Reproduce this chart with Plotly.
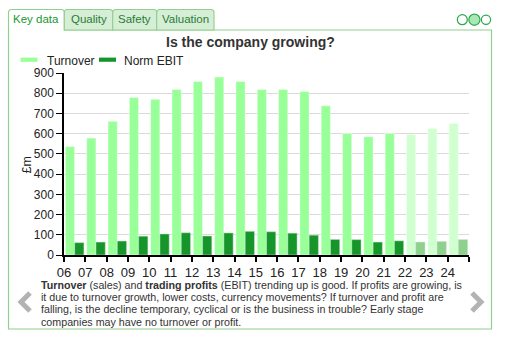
import plotly.graph_objects as go

# ---- data -------------------------------------------------------------
years = ["06", "07", "08", "09", "10", "11", "12", "13", "14", "15",
         "16", "17", "18", "19", "20", "21", "22", "23", "24"]
turnover = [537, 578, 661, 779, 770, 819, 858, 880, 858, 818,
            818, 808, 738, 601, 585, 601, 596, 626, 651]
norm_ebit = [61, 64, 69, 93, 104, 110, 94, 109, 117, 115,
             108, 98, 77, 76, 64, 70, 64, 67, 76]
n_forecast = 3  # last three years are forecasts
y_ticks = [0, 100, 200, 300, 400, 500, 600, 700, 800, 900]

W, H = 507, 337
L, R, T, B = 64, 38, 73, 82
PW, PH = W - L - R, H - T - B


def px(x):
    return (x - L) / PW


def py(y):
    return (H - B - y) / PH


FONT = "Liberation Sans, Arial, Helvetica, sans-serif"
GREEN_LINE = "#8fcf8f"

n = len(years)
xpos = [i + 0.5 for i in range(n)]
turn_cols = ["#99ff99"] * (n - n_forecast) + ["#d0ffd0"] * n_forecast
ebit_cols = ["#16962a"] * (n - n_forecast) + ["#8ed18e"] * n_forecast

fig = go.Figure()
fig.add_trace(go.Bar(x=xpos, y=turnover, name="Turnover",
                     marker=dict(color=turn_cols,
                                 line=dict(color="rgba(255,255,255,0.45)", width=1)),
                     hoverinfo="skip"))
fig.add_trace(go.Bar(x=xpos, y=norm_ebit, name="Norm EBIT",
                     marker=dict(color=ebit_cols,
                                 line=dict(color="rgba(200,230,200,0.5)", width=1)),
                     hoverinfo="skip"))

shapes = []
ann = []

# panel frame and tabs
shapes.append(dict(type="rect", xref="paper", yref="paper", layer="below",
                   x0=px(8.5), x1=px(491.5), y0=py(329), y1=py(30),
                   line=dict(color=GREEN_LINE, width=1.2), fillcolor="white"))
tabs = [("Key data", 8.5, 64.3), ("Quality", 64.3, 112.7),
        ("Safety", 112.7, 156.7), ("Valuation", 156.7, 214)]
for i, (label, x0, x1) in enumerate(tabs):
    active = i == 0
    r = 3
    path = (f"M {px(x0)} {py(30)} L {px(x0)} {py(9.5 + r)} "
            f"Q {px(x0)} {py(9.5)} {px(x0 + r)} {py(9.5)} "
            f"L {px(x1 - r)} {py(9.5)} Q {px(x1)} {py(9.5)} {px(x1)} {py(9.5 + r)} "
            f"L {px(x1)} {py(30)} Z")
    shapes.append(dict(type="path", xref="paper", yref="paper", layer="below",
                       path=path, fillcolor="white" if active else "#d6eed6",
                       line=dict(color=GREEN_LINE, width=1.1)))
    if active:
        # open the bottom edge of the active tab into the panel
        shapes.append(dict(type="line", xref="paper", yref="paper", layer="below",
                           x0=px(x0 + 0.8), x1=px(x1 - 0.6), y0=py(30), y1=py(30),
                           line=dict(color="white", width=2)))
    ann.append(dict(text=label, x=px((x0 + x1) / 2), y=py(19.5), xref="paper",
                    yref="paper", showarrow=False, xanchor="center", yanchor="middle",
                    font=dict(family=FONT, size=11.5,
                              color="#179a2e" if active else "#2a7d35")))

# page indicator circles
for cx, rr, fill in [(462.3, 5, "white"), (474.4, 5.6, "#a8e8b4"), (486.0, 4.6, "white")]:
    shapes.append(dict(type="circle", xref="paper", yref="paper",
                       x0=px(cx - rr), x1=px(cx + rr), y0=py(19.7 + rr), y1=py(19.7 - rr),
                       fillcolor=fill, line=dict(color="#2aa84a", width=1.2)))

# navigation chevrons
for pts in [[(30, 293), (21, 302), (30, 311)], [(472, 293), (481, 302), (472, 311)]]:
    path = "M " + " L ".join(f"{px(x)} {py(y)}" for x, y in pts)
    shapes.append(dict(type="path", xref="paper", yref="paper", path=path,
                       line=dict(color="#b3b3b3", width=5)))

# legend
for x0, x1, col, label, tx in [(20.5, 37.5, "#99ff99", "Turnover", 44.5),
                               (99, 116, "#16962a", "Norm EBIT", 122)]:
    shapes.append(dict(type="rect", xref="paper", yref="paper",
                       x0=px(x0), x1=px(x1), y0=py(61.8), y1=py(57.6),
                       fillcolor=col, line=dict(width=0)))
    ann.append(dict(text=label, x=px(tx), y=py(60.5), xref="paper", yref="paper",
                    showarrow=False, xanchor="left", yanchor="middle",
                    font=dict(family=FONT, size=12, color="#222")))

# chart title and axis label
ann.append(dict(text="<b>Is the company growing?</b>", x=px(250), y=py(42),
                xref="paper", yref="paper", showarrow=False,
                xanchor="center", yanchor="middle",
                font=dict(family=FONT, size=14, color="#333")))
ann.append(dict(text="£m", x=px(26.5), y=py(165), xref="paper", yref="paper",
                showarrow=False, textangle=-90, xanchor="center", yanchor="middle",
                font=dict(family=FONT, size=12.5, color="#222")))

# explanatory text
lines = [
    "<b>Turnover</b> (sales) and <b>trading profits</b> (EBIT) trending up is good. "
    "If profits are growing, is",
    "it due to turnover growth, lower costs, currency movements? If turnover and profit are",
    "falling, is the decline temporary, cyclical or is the business in trouble? Early stage",
    "companies may have no turnover or profit.",
]
for k, line in enumerate(lines):
    ann.append(dict(text=line, x=px(38.5), y=py(285.0 + 12.2 * k), xref="paper",
                    yref="paper", showarrow=False, xanchor="left", yanchor="middle",
                    font=dict(family=FONT, size=10.7, color="#333")))

fig.update_layout(
    width=W, height=H,
    margin=dict(l=L, r=R, t=T, b=B, pad=0),
    paper_bgcolor="white", plot_bgcolor="white",
    barmode="group", bargap=0.13, bargroupgap=0.0,
    showlegend=False,
    shapes=shapes, annotations=ann,
    font=dict(family=FONT, color="#222"),
)
fig.update_xaxes(range=[0, n], tickmode="array",
                 tickvals=list(range(n + 1)), ticktext=years + [""],
                 showgrid=False, zeroline=False, showline=True,
                 linecolor="black", linewidth=1.5,
                 ticks="outside", ticklen=5, tickcolor="black", tickwidth=1.5,
                 tickfont=dict(family=FONT, size=13, color="#222"),
                 fixedrange=True)
fig.update_yaxes(range=[0, 900], tickmode="array", tickvals=y_ticks,
                 showgrid=True, gridcolor="#dadada", gridwidth=1,
                 zeroline=False, showline=True, linecolor="black", linewidth=1.5,
                 ticks="outside", ticklen=6, tickcolor="black", tickwidth=1,
                 tickfont=dict(family=FONT, size=12, color="#222"),
                 fixedrange=True)

fig.write_html("out.html", config={"displayModeBar": False})
